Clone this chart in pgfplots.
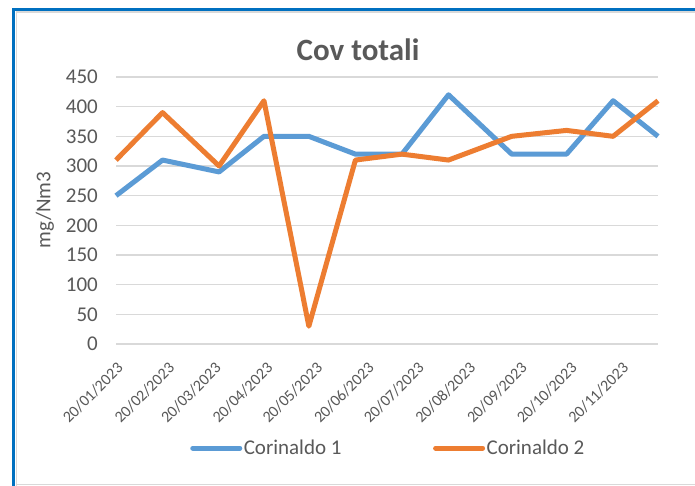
\documentclass[border=0pt]{standalone}
\usepackage{pgfplots}
\pgfplotsset{compat=1.18}
\usepackage{fontspec}
\setmainfont{Carlito}
\definecolor{c1}{HTML}{5B9BD5}
\definecolor{c2}{HTML}{ED7D31}
\definecolor{txt}{HTML}{595959}
\definecolor{grd}{HTML}{D9D9D9}
\definecolor{frm}{HTML}{0070C0}
\begin{document}
\begin{tikzpicture}[x=1pt,y=1pt]
\useasboundingbox (0,0) rectangle (695,486);
\fill[white] (0,0) rectangle (695,486);
% frame
\draw[grd, line width=1.5pt] (16.5,0) -- (16.5,474) -- (695,474);
\draw[grd, line width=1.5pt] (16.5,1.5) -- (695,1.5);
\draw[frm, line width=3pt] (13.5,0) -- (13.5,476.5) -- (695,476.5);
\node[font=\fontsize{31}{36}\selectfont\bfseries, text=txt] at (358,436) {Cov totali};
\node[font=\fontsize{21}{25}\selectfont, text=txt, rotate=90] at (45,276) {mg/Nm3};
\begin{axis}[
  at={(116pt,142pt)}, anchor=south west,
  scale only axis, width=542pt, height=267pt,
  xmin=0, xmax=326, ymin=0, ymax=450,
  ytick={0,50,...,450},
  xtick={0,31,59,90,120,151,181,212,243,273,304},
  xticklabels={20/01/2023,20/02/2023,20/03/2023,20/04/2023,20/05/2023,20/06/2023,20/07/2023,20/08/2023,20/09/2023,20/10/2023,20/11/2023},
  x tick label style={xshift=0pt, yshift=-17pt, rotate=45, anchor=north east, font=\fontsize{16}{19}\selectfont, text=txt, inner sep=0pt},
  y tick label style={font=\fontsize{21}{25}\selectfont, text=txt, inner sep=0pt, xshift=-18pt},
  /pgf/number format/assume math mode=true,
  axis line style={draw=none},
  major tick length=0pt,
  ymajorgrids, grid style={grd, line width=1.5pt},
  clip=false,
  legend style={at={(0.502,-0.39)}, anchor=center, draw=none, fill=none, legend columns=2,
     font=\fontsize{21}{25}\selectfont, text=txt,
     /tikz/every even column/.append style={column sep=90pt},
     nodes={inner sep=1.5pt}},
  legend image code/.code={\draw[#1, line cap=round] (0pt,0pt) -- (47pt,0pt);},
]
\addplot[c1, line width=5pt, line join=round] coordinates {
 (0,250) (28,310) (62,290) (89,350) (116,350) (144,320) (172,320) (200,420) (238,320) (271,320) (299,410) (326,350)};
\addlegendentry{Corinaldo 1}
\addplot[c2, line width=5pt, line join=round] coordinates {
 (0,310) (28,390) (62,300) (89,410) (116,30) (144,310) (172,320) (200,310) (238,350) (271,360) (299,350) (326,410)};
\addlegendentry{Corinaldo 2}
\end{axis}
\end{tikzpicture}
\end{document}
